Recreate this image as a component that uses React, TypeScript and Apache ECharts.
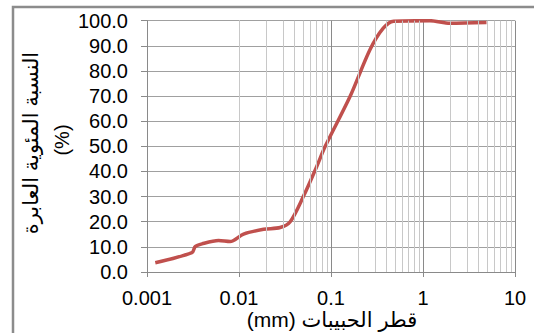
import React, { useEffect, useRef } from "react";
import * as echarts from "echarts";

const diameters = [0.00123, 0.00308, 0.00334, 0.00396, 0.006, 0.008, 0.0112, 0.0185, 0.028, 0.036, 0.05, 0.07, 0.0863, 0.161, 0.265, 0.37, 0.48, 1.19, 1.96, 4.9];
const passing = [3.7, 7.7, 10.1, 11.2, 12.5, 12.1, 15.1, 17.0, 17.7, 20.0, 30.0, 42.0, 49.9, 69.8, 88.4, 97.0, 99.8, 100, 99.0, 99.3];
const decades = [0.001, 0.01, 0.1, 1];
const minorSteps = [2, 3, 4, 5, 6, 7, 8, 9];
const xTitle = "(mm) قطر الحبيبات";
const yTitle1 = "النسبة المئوية العابرة";
const yTitle2 = "(%)";

const FONT = "'Liberation Sans', Arial, 'DejaVu Sans', sans-serif";

export default function App() {
  const ref = useRef<HTMLDivElement>(null);
  useEffect(() => {
    if (!ref.current) return;
    const chart = echarts.init(ref.current, null, { renderer: "svg" });
    const minorVals: number[] = [];
    decades.forEach((d) => minorSteps.forEach((k) => minorVals.push(+(d * k).toPrecision(3))));
    chart.setOption({
      animation: false,
      backgroundColor: "#fff",
      grid: { left: 147, top: 20.7, right: 19, bottom: 61, containLabel: false },
      xAxis: {
        type: "log",
        logBase: 10,
        min: 0.001,
        max: 10,
        axisLine: { show: true, lineStyle: { color: "#8a8a8a", width: 1 } },
        axisTick: { show: true, length: 5, lineStyle: { color: "#8a8a8a" } },
        axisLabel: {
          margin: 16,
          fontSize: 20,
          color: "#000",
          fontFamily: FONT,
          formatter: (v: number) => {
            const m: Record<string, string> = { "-3": "0.001", "-2": "0.01", "-1": "0.1", "0": "1", "1": "10" };
            return m[String(Math.round(Math.log10(v)))] ?? String(v);
          },
        },
        splitLine: { show: true, lineStyle: { color: "#8a8a8a", width: 1 } },
      },
      yAxis: {
        type: "value",
        min: 0,
        max: 100,
        interval: 10,
        axisLine: { show: true, lineStyle: { color: "#8a8a8a", width: 1 } },
        axisTick: { show: true, length: 6, lineStyle: { color: "#8a8a8a" } },
        axisLabel: {
          margin: 19,
          fontSize: 20,
          color: "#000",
          fontFamily: FONT,
          formatter: (v: number) => v.toFixed(1),
        },
        splitLine: { show: true, lineStyle: { color: "#a0a0a0", width: 1 } },
      },
      graphic: [
        {
          type: "rect",
          shape: { x: 13, y: 7, width: 700, height: 500 },
          style: { fill: "none", stroke: "#8c8c8c", lineWidth: 2.5 },
          silent: true,
          z: 0,
        },
        {
          type: "text",
          x: 30,
          y: 143,
          rotation: Math.PI / 2,
          style: { text: yTitle1, fontSize: 21, fontFamily: FONT, fill: "#000", align: "center", verticalAlign: "middle" },
        },
        {
          type: "text",
          x: 62,
          y: 140,
          rotation: Math.PI / 2,
          style: { text: yTitle2, fontSize: 20, fontFamily: FONT, fill: "#000", align: "center", verticalAlign: "middle" },
        },
        {
          type: "text",
          x: 332,
          y: 319,
          style: { text: xTitle, fontSize: 21, fontFamily: FONT, fill: "#000", align: "center", verticalAlign: "middle" },
        },
      ],
      series: [
        {
          type: "scatter",
          data: [[0.001, 0]],
          symbolSize: 0,
          silent: true,
          z: 1,
          markLine: {
            silent: true,
            symbol: "none",
            label: { show: false },
            lineStyle: { color: "#c8c8c8", width: 1, type: "solid" },
            data: minorVals.map((v) => ({ xAxis: v })),
          },
        },
        {
          type: "line",
          z: 3,
          data: diameters.map((d, i) => [d, passing[i]]),
          smooth: 0.3,
          showSymbol: false,
          symbol: "none",
          clip: true,
          lineStyle: { color: "#c0504d", width: 3.5 },
        },
      ],
    });
    return () => chart.dispose();
  }, []);
  return <div ref={ref} style={{ width: 534, height: 333, position: "absolute", left: 0, top: 0 }} />;
}
